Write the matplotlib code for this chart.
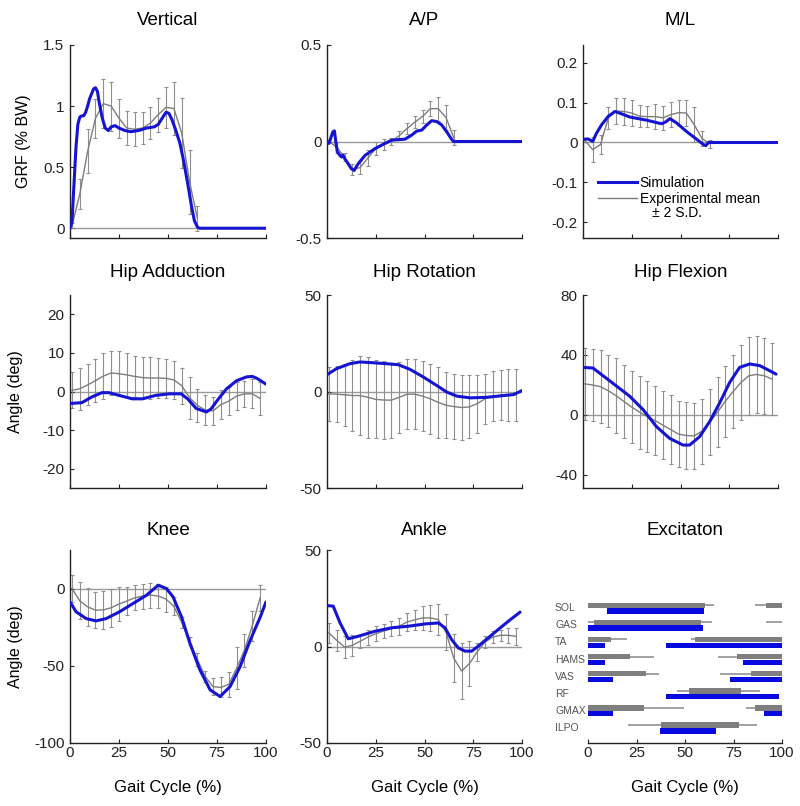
import matplotlib
matplotlib.use("Agg")
import matplotlib.pyplot as plt
from matplotlib.lines import Line2D

plt.rcParams["font.family"] = ["Liberation Sans", "DejaVu Sans"]

SIM_COLOR = "#1414d2"
EXP_COLOR = "#7d7d7d"
ERR_COLOR = "#8f8f8f"
ZERO_COLOR = "#9a9a9a"

# experimental sample points (% gait cycle)
EXP_X_GRF = [1, 5, 9, 13, 17, 21, 25, 29, 33, 37, 41, 45, 49, 53, 57, 61, 65]
EXP_X_KIN = [1, 5, 9, 13, 17, 21, 25, 29, 33, 37, 41, 45, 49, 53, 57, 61, 65,
             69, 73, 77, 81, 85, 89, 93, 97]

# --- ground reaction forces ---
vert_sim_x = [0, 1, 2, 3, 4, 5, 6, 7, 8, 9, 10, 11, 12, 13, 14, 15, 16.5, 18, 19.5, 21, 23,
              25, 28, 31, 35, 39, 43, 45, 47, 49, 50.5, 52, 54, 56, 58, 60, 62, 63.5, 65, 66, 100]
vert_sim_y = [0, 0.05, 0.35, 0.65, 0.85, 0.91, 0.92, 0.92, 0.95, 1.0, 1.06, 1.1, 1.14, 1.15, 1.12,
              1.02, 0.9, 0.82, 0.8, 0.83, 0.84, 0.82, 0.8, 0.79, 0.8, 0.82, 0.83, 0.85, 0.9, 0.95,
              0.94, 0.89, 0.8, 0.7, 0.55, 0.37, 0.18, 0.06, 0.01, 0, 0]
vert_exp_mean = [0.02, 0.28, 0.63, 0.9, 1.02, 1.0, 0.9, 0.82, 0.81, 0.82, 0.86, 0.93, 0.99, 0.98,
                 0.78, 0.38, 0.08]
vert_exp_sd = [0.02, 0.12, 0.18, 0.16, 0.2, 0.2, 0.16, 0.14, 0.14, 0.13, 0.13, 0.14, 0.17, 0.22,
               0.29, 0.26, 0.1]

ap_sim_x = [0, 1, 2, 3, 3.8, 4.5, 5.3, 6.5, 7.4, 8.2, 9.1, 10.5, 12.5, 13.9, 16, 19.5, 24.6, 29.7,
            33.2, 40, 43.4, 46, 48.6, 51.2, 53.7, 56.3, 58.8, 61.4, 63.6, 64.8, 100]
ap_sim_y = [0, -0.01, 0.02, 0.05, 0.055, 0.0, -0.054, -0.07, -0.08, -0.07, -0.089, -0.11, -0.141,
            -0.15, -0.115, -0.072, -0.037, -0.01, 0.007, 0.012, 0.033, 0.054, 0.059, 0.086, 0.108,
            0.103, 0.086, 0.05, 0.016, 0, 0]
ap_exp_mean = [0.0, -0.03, -0.08, -0.145, -0.135, -0.085, -0.036, -0.015, 0.0, 0.03, 0.067, 0.1,
               0.13, 0.17, 0.17, 0.125, 0.02]
ap_exp_sd = [0.01, 0.03, 0.02, 0.03, 0.035, 0.04, 0.034, 0.03, 0.018, 0.024, 0.027, 0.03, 0.035,
             0.04, 0.062, 0.065, 0.04]

ml_sim_x = [0, 2.5, 5, 7, 9.6, 13, 16.4, 19.8, 24, 32.7, 40.3, 42.5, 44.6, 48, 53, 58.3, 61.7, 63,
            64.3, 100]
ml_sim_y = [0.008, 0.009, 0.003, 0.024, 0.045, 0.066, 0.078, 0.072, 0.064, 0.056, 0.047, 0.052,
            0.06, 0.049, 0.028, 0.008, -0.005, -0.008, 0, 0]
ml_exp_mean = [0.005, -0.018, -0.005, 0.062, 0.079, 0.078, 0.074, 0.066, 0.065, 0.065, 0.062,
               0.07, 0.075, 0.074, 0.045, 0.01, -0.003]
ml_exp_sd = [0.005, 0.031, 0.025, 0.027, 0.033, 0.033, 0.033, 0.028, 0.027, 0.031, 0.03, 0.031,
             0.031, 0.033, 0.045, 0.018, 0.01]

# --- joint angles ---
hadd_sim_x = [0, 6, 11.2, 16.3, 19.8, 25, 31.8, 37, 43.8, 50.7, 56.7, 60, 64.4, 69.6, 72, 75.6,
              79.9, 85, 90.2, 93, 95.4, 100]
hadd_sim_y = [-3.1, -2.9, -1.4, -0.3, -0.3, -1, -1.9, -1.9, -1, -0.6, -0.6, -1.9, -4.4, -5.3,
              -4.5, -2, 0.7, 2.8, 3.8, 3.9, 3.4, 1.9]
hadd_exp_mean = [0.3, 0.7, 1.7, 2.8, 4.0, 4.8, 4.6, 4.3, 3.9, 3.6, 3.5, 3.5, 3.4, 3.0, 1.5, -1.6,
                 -3.6, -4.8, -5.0, -3.4, -2.5, -1.2, -0.6, -0.6, -1.8]
hadd_exp_sd = [4.7, 5.5, 5.3, 5.5, 6.0, 5.8, 5.8, 5.7, 5.4, 5.4, 5.4, 5.2, 5.0, 4.9, 4.7, 5.4,
               4.2, 3.8, 3.6, 3.7, 3.6, 3.6, 3.4, 3.8, 4.3]

hrot_sim_x = [0, 4.8, 11.7, 16.8, 23.7, 30.5, 36.5, 42.5, 49.4, 56.3, 61.4, 66.6, 73.4, 82, 90.6,
              95.7, 100]
hrot_sim_y = [8.7, 11.8, 14.4, 15.3, 14.9, 14.4, 13.9, 11.5, 7.5, 3.1, -0.3, -2.4, -3.3, -3, -2.1,
              -1.6, 0.5]
hrot_exp_mean = [-1.2, -1.4, -1.7, -2.1, -2.1, -3.0, -4.1, -4.4, -4.5, -3.0, -1.4, -1.4, -2.4,
                 -3.8, -5.6, -7.1, -7.8, -8.3, -8.0, -6.3, -3.8, -2.4, -2.0, -1.8, -1.7]
hrot_exp_sd = [13.9, 14.6, 16.0, 18.2, 20.5, 20.9, 20.2, 20.0, 19.4, 18.3, 18.0, 18.0, 18.0, 18.2,
               18.3, 17.2, 17.0, 17.0, 16.3, 15.0, 13.0, 12.8, 12.9, 13.3, 13.5]

hflex_sim_x = [0, 5.1, 10.3, 17.1, 23.9, 30.8, 37.6, 44.4, 51.3, 54.7, 59.8, 65, 70.1, 75.2, 80.3,
               85.5, 90.6, 95.7, 99]
hflex_sim_y = [31.6, 31.2, 26, 19.2, 12.4, 3.4, -7.9, -15.8, -20.3, -20.3, -14.7, -4.5, 7.9, 21.5,
               31.6, 33.9, 32.8, 29.4, 27.1]
hflex_exp_mean = [20.6, 19.8, 18.7, 16.0, 12.7, 8.8, 5.1, 1.7, -1.2, -4.0, -7.0, -10.0, -13.0,
                  -13.9, -14.2, -11.1, -5.0, 1.7, 9.0, 15.5, 21.5, 26.0, 26.9, 26.0, 23.8]
hflex_exp_sd = [24.0, 24.3, 24.3, 24.0, 25.0, 24.6, 24.3, 24.3, 23.8, 23.2, 22.8, 22.9, 22.0, 22.3,
                22.0, 21.7, 22.0, 23.2, 23.8, 24.5, 24.9, 26.0, 25.8, 25.3, 23.8]

knee_sim_x = [0, 3.1, 8.2, 13.3, 18.5, 25.3, 32.1, 39, 45, 49.2, 52.6, 56.9, 61.2, 66.3, 71.5,
              76.6, 81.7, 86.8, 92, 97.1, 100]
knee_sim_y = [-8.6, -15, -19.4, -20.9, -19.4, -15, -9.7, -4.3, 2.2, 0, -5.4, -18.3, -35.5, -52.7,
              -65.6, -69.9, -63.4, -50.5, -33.3, -18.3, -8.6]
knee_exp_mean = [0, -8, -11.8, -14, -13.8, -12.4, -10, -8, -6, -4.9, -4.2, -4.8, -6.8, -11.5, -22,
                 -34, -46, -57, -63.5, -64, -62, -51.5, -40, -24, -6]
knee_exp_sd = [8.6, 12, 12.5, 11.8, 12.4, 12.4, 10.8, 9.2, 8.1, 8.1, 8.1, 8, 8.1, 5.9, 3.8, 2.7,
               4.3, 3.8, 5.4, 6.5, 8.1, 13.5, 10.8, 9.7, 8.5]

ankle_sim_x = [0, 3.2, 6.7, 10.9, 16, 24.6, 33.2, 41.7, 50.3, 57.1, 60.5, 63.9, 67.3, 70.8, 74.2,
               77.6, 82.7, 87.8, 93, 99]
ankle_sim_y = [21.2, 20.9, 12.2, 4, 5.3, 7.9, 9.7, 10.5, 11.7, 12.2, 9.7, 3.6, -0.7, -2.4, -2.4,
               0.2, 4.5, 8.8, 13.1, 17.8]
ankle_exp_mean = [7, 3.2, -0.3, 0.6, 2.7, 4.9, 6.6, 8, 9.2, 10.5, 12.7, 13.8, 14.8, 14.8, 14, 7.5,
                  -6, -12.7, -8.9, -2.8, 2.3, 4.9, 5.8, 5.8, 5.3]
ankle_exp_sd = [5.2, 5.6, 5.6, 5.6, 3.5, 3.9, 3.9, 3.5, 3.9, 4.3, 4.7, 5, 6, 6.9, 7.8, 9.1, 12.5,
                14.7, 11.6, 4.7, 3, 3, 3, 3.9, 4.3]

# --- muscle excitation timing (% gait cycle) ---
muscles = ["SOL", "GAS", "TA", "HAMS", "VAS", "RF", "GMAX", "ILPO"]
exp_on = [[(0, 60.5), (92, 100)], [(3, 58)], [(0, 12), (55, 100)], [(0, 21.5), (77, 100)],
          [(0, 30), (84, 100)], [(52, 79)], [(0, 28.7), (86, 100)], [(37.8, 78)]]
exp_range = [[(0, 65), (86, 100)], [(0, 64), (92, 100)], [(0, 20), (53, 100)],
             [(0, 34), (67, 100)], [(0, 36.5), (68, 100)], [(46, 88.5)],
             [(0, 49.5), (81.6, 100)], [(20.6, 87)]]
sim_on = [[(10, 60)], [(0, 59.5)], [(0, 9), (40, 100)], [(0, 9), (80, 100)],
          [(0, 13), (73, 100)], [(40, 98.5)], [(0, 13), (90.5, 100)], [(37, 66)]]

x_ticks = [0, 25, 50, 75, 100]
x_ticklabels = ["0", "25", "50", "75", "100"]

W, H = 800, 806
fig = plt.figure(figsize=(W / 100, H / 100), dpi=100)

TITLE_FS = 13.5
TICK_FS = 11


def add_axes_px(x0, x1, y0, y1):
    return fig.add_axes([x0 / W, 1 - y1 / H, (x1 - x0) / W, (y1 - y0) / H])


def style_axes(ax, bottom_row):
    for s in ["top", "right"]:
        ax.spines[s].set_visible(False)
    for s in ["left", "bottom"]:
        ax.spines[s].set_color("#222222")
        ax.spines[s].set_linewidth(1.0)
    ax.tick_params(direction="in", length=3, width=0.8, labelsize=TICK_FS, colors="#222222")
    ax.tick_params(axis="x", pad=2)
    ax.tick_params(axis="y", pad=4)
    ax.set_xlim(0, 100)
    ax.set_xticks(x_ticks)
    if bottom_row:
        ax.set_xticklabels(x_ticklabels)
        ax.set_xlabel("Gait Cycle (%)", fontsize=12)
        ax.xaxis.set_label_coords(0.5, -0.19)
    else:
        ax.set_xticklabels([])


def panel(ax, title, pad, sim_x, sim_y, exp_x, exp_m, exp_sd, ylim, yticks, yticklabels,
          bottom_row=False):
    ax.axhline(0, color=ZERO_COLOR, lw=1.0, zorder=1)
    ax.errorbar(exp_x, exp_m, yerr=exp_sd, color=EXP_COLOR, lw=1.0, ecolor=ERR_COLOR,
                elinewidth=0.8, capsize=1.6, capthick=0.8, zorder=2)
    ax.plot(sim_x, sim_y, color=SIM_COLOR, lw=2.2, zorder=3, solid_capstyle="round")
    ax.set_ylim(*ylim)
    ax.set_yticks(yticks)
    ax.set_yticklabels(yticklabels)
    ax.set_title(title, fontsize=TITLE_FS, pad=pad)
    style_axes(ax, bottom_row)


cols = [(70, 266), (327, 522), (583, 778)]
rows = [(45, 238), (295, 488), (550, 743)]
pads = [14.5, 13, 11]

ax = add_axes_px(*cols[0], *rows[0])
panel(ax, "Vertical", pads[0], vert_sim_x, vert_sim_y, EXP_X_GRF, vert_exp_mean, vert_exp_sd,
      (-0.08, 1.5), [0, 0.5, 1, 1.5], ["0", "0.5", "1", "1.5"])
ax.set_ylabel("GRF (% BW)", fontsize=11.5)
ax.yaxis.set_label_coords(-0.2, 0.5)

ax = add_axes_px(*cols[1], *rows[0])
panel(ax, "A/P", pads[0], ap_sim_x, ap_sim_y, EXP_X_GRF, ap_exp_mean, ap_exp_sd,
      (-0.5, 0.5), [-0.5, 0, 0.5], ["-0.5", "0", "0.5"])

ax = add_axes_px(*cols[2], *rows[0])
panel(ax, "M/L", pads[0], ml_sim_x, ml_sim_y, EXP_X_GRF, ml_exp_mean, ml_exp_sd,
      (-0.24, 0.245), [-0.2, -0.1, 0, 0.1, 0.2], ["-0.2", "-0.1", "0", "0.1", "0.2"])
handles = [Line2D([], [], color=SIM_COLOR, lw=2.2), Line2D([], [], color=EXP_COLOR, lw=1.0)]
ax.legend(handles, ["Simulation", "Experimental mean"], loc="upper left",
          bbox_to_anchor=(0.077, 0.32), frameon=False, fontsize=10, handlelength=2.8,
          handletextpad=0.2, borderaxespad=0, borderpad=0, labelspacing=0.12)
ax.text(0.354, 0.128, "\u00b1 2 S.D.", transform=ax.transAxes, fontsize=10, va="center")

ax = add_axes_px(*cols[0], *rows[1])
panel(ax, "Hip Adduction", pads[1], hadd_sim_x, hadd_sim_y, EXP_X_KIN, hadd_exp_mean, hadd_exp_sd,
      (-25, 25), [-20, -10, 0, 10, 20], ["-20", "-10", "0", "10", "20"])
ax.set_ylabel("Angle (deg)", fontsize=11.5)
ax.yaxis.set_label_coords(-0.24, 0.5)

ax = add_axes_px(*cols[1], *rows[1])
panel(ax, "Hip Rotation", pads[1], hrot_sim_x, hrot_sim_y, EXP_X_KIN, hrot_exp_mean, hrot_exp_sd,
      (-50, 50), [-50, 0, 50], ["-50", "0", "50"])

ax = add_axes_px(*cols[2], *rows[1])
panel(ax, "Hip Flexion", pads[1], hflex_sim_x, hflex_sim_y, EXP_X_KIN, hflex_exp_mean,
      hflex_exp_sd, (-49, 80), [-40, 0, 40, 80], ["-40", "0", "40", "80"])

ax = add_axes_px(*cols[0], *rows[2])
panel(ax, "Knee", pads[2], knee_sim_x, knee_sim_y, EXP_X_KIN, knee_exp_mean, knee_exp_sd,
      (-100, 25), [-100, -50, 0], ["-100", "-50", "0"], bottom_row=True)
ax.set_ylabel("Angle (deg)", fontsize=11.5)
ax.yaxis.set_label_coords(-0.24, 0.5)

ax = add_axes_px(*cols[1], *rows[2])
panel(ax, "Ankle", pads[2], ankle_sim_x, ankle_sim_y, EXP_X_KIN, ankle_exp_mean, ankle_exp_sd,
      (-50, 50), [-50, 0, 50], ["-50", "0", "50"], bottom_row=True)

# excitation timing panel
ax = add_axes_px(588, 782, *rows[2])
bar_h = 0.32
for i, name in enumerate(muscles):
    for a, b in exp_range[i]:
        ax.hlines(i - 0.17, a, b, color="#9a9a9a", lw=1.3, zorder=1)
    for a, b in exp_on[i]:
        ax.barh(i - 0.17, b - a, left=a, height=bar_h, color="#7f7f7f", zorder=2)
    for a, b in sim_on[i]:
        ax.barh(i + 0.17, b - a, left=a, height=bar_h, color="#0808e0", zorder=2)
    ax.text(-17, i, name, fontsize=7.5, color="#555555", ha="left", va="center")
ax.set_ylim(7.88, -3.4)
ax.set_yticks([])
ax.spines["left"].set_visible(False)
ax.set_title("Excitaton", fontsize=TITLE_FS, pad=pads[2])
style_axes(ax, True)

fig.savefig("out.png", dpi=100)
